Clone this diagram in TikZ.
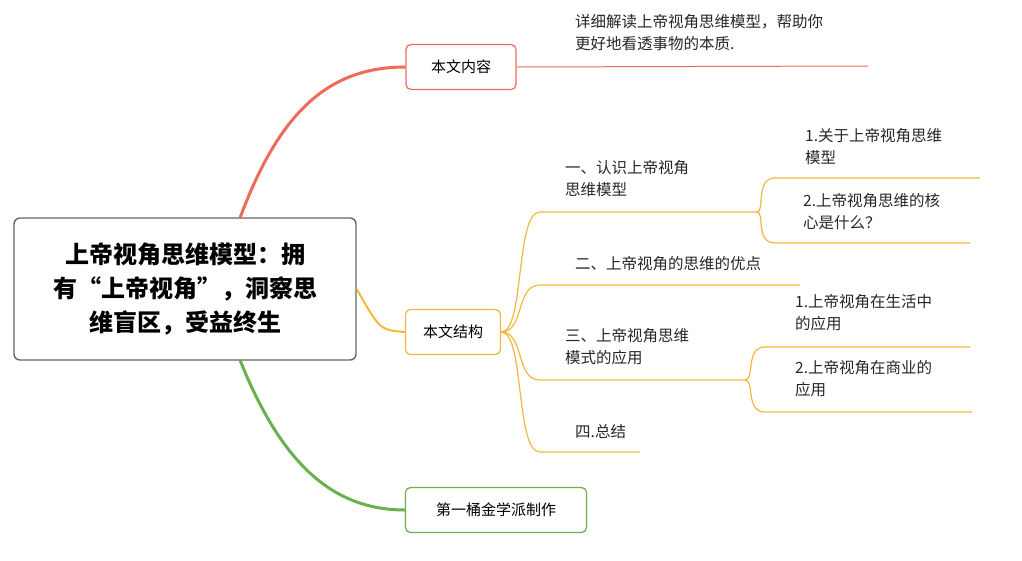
\documentclass[tikz,border=0pt]{standalone}
\usepackage{fontspec}
\setmainfont{Noto Sans CJK SC}
\begin{document}
\begin{tikzpicture}[x=1pt,y=-1pt,
  box/.style={draw=#1,line width=1.2pt,rounded corners=5pt,fill=white,font=\fontsize{15}{16}\selectfont,inner sep=0pt},
  lab/.style={anchor=north west,align=left,font=\fontsize{15.5}{22}\selectfont,inner sep=0pt,text=black!85},
]
\definecolor{rd}{HTML}{EE6B5B}\definecolor{gr}{HTML}{6AB04C}\definecolor{og}{HTML}{F5B73B}
\useasboundingbox (0,0) rectangle (1022,560);
\node[box=black!60,minimum width=342pt,minimum height=142pt,line width=1.4pt,rounded corners=6pt,align=center,font=\fontsize{24}{34}\selectfont\bfseries] (c) at (185,289) {上帝视角思维模型：拥\\有“上帝视角”，洞察思\\维盲区，受益终生};
\coordinate (ct) at (240,218); \coordinate (cb) at (240,360);
\node[box=rd,minimum width=110pt,minimum height=45pt] (a) at (461,67) {本文内容};
\node[box=og,minimum width=95pt,minimum height=45pt] (b) at (453,332) {本文结构};
\node[box=gr,minimum width=181pt,minimum height=45pt] (d) at (496,510) {第一桶金学派制作};
\draw[rd,line width=3pt] (ct) .. controls (280,110) and (330,67) .. (a.west);
\draw[og,line width=2pt] (c.east) .. controls (380,330) .. (b.west);
\draw[gr,line width=3pt] (cb) .. controls (280,460) and (330,510) .. (d.west);
\coordinate (ae) at (868,66); \draw[rd,line width=1pt] (a.east) -- (ae);
\node[lab] (at) at (575,14) {详细解读上帝视角思维模型，帮助你\\更好地看透事物的本质.};
\coordinate (s1a) at (540,212); \coordinate (s1b) at (757,212);
\coordinate (s2a) at (540,285); \coordinate (s2b) at (800,285);
\coordinate (s3a) at (540,380); \coordinate (s3b) at (745,380);
\coordinate (s4a) at (540,452); \coordinate (s4b) at (640,452);
\foreach \s in {s1,s2,s3,s4}{\draw[og,line width=1.2pt] (b.east) .. controls (525,332) and (515,0|-\s a) .. (\s a) -- (\s b);}
\node[lab] (t1) at (565,160) {一、认识上帝视角\\思维模型};
\node[lab] (t2) at (575,256) {二、上帝视角的思维的优点};
\node[lab] (t3) at (565,328) {三、上帝视角思维\\模式的应用};
\node[lab] (t4) at (575,424) {四.总结};
\coordinate (u1a) at (775,178); \coordinate (u1b) at (980,178);
\coordinate (u2a) at (775,243); \coordinate (u2b) at (970,243);
\coordinate (u3a) at (765,347); \coordinate (u3b) at (970,347);
\coordinate (u4a) at (765,412); \coordinate (u4b) at (972,412);
\draw[og,line width=1.2pt] (s1b) .. controls (765,212) and (755,178) .. (u1a) -- (u1b);
\draw[og,line width=1.2pt] (s1b) .. controls (765,212) and (755,243) .. (u2a) -- (u2b);
\draw[og,line width=1.2pt] (s3b) .. controls (755,380) and (745,347) .. (u3a) -- (u3b);
\draw[og,line width=1.2pt] (s3b) .. controls (755,380) and (745,412) .. (u4a) -- (u4b);
\node[lab] (v1) at (805,128) {1.关于上帝视角思维\\模型};
\node[lab] (v2) at (803,193) {2.上帝视角思维的核\\心是什么？};
\node[lab] (v3) at (795,294) {1.上帝视角在生活中\\的应用};
\node[lab] (v4) at (795,360) {2.上帝视角在商业的\\应用};
\end{tikzpicture}
\end{document}
